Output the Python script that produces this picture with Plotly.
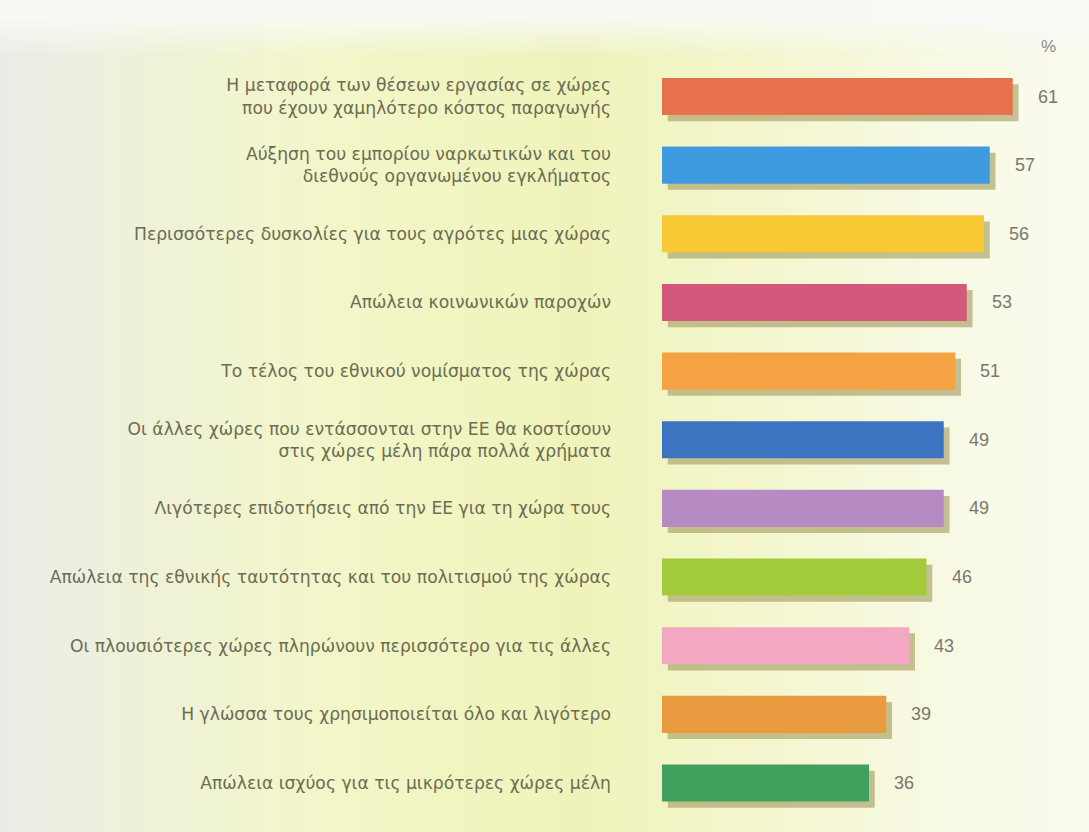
import plotly.graph_objects as go

categories = [
    "Η μεταφορά των θέσεων εργασίας σε χώρες<br>που έχουν χαμηλότερο κόστος παραγωγής",
    "Αύξηση του εμπορίου ναρκωτικών και του<br>διεθνούς οργανωμένου εγκλήματος",
    "Περισσότερες δυσκολίες για τους αγρότες μιας χώρας",
    "Απώλεια κοινωνικών παροχών",
    "Το τέλος του εθνικού νομίσματος της χώρας",
    "Οι άλλες χώρες που εντάσσονται στην ΕΕ θα κοστίσουν<br>στις χώρες μέλη πάρα πολλά χρήματα",
    "Λιγότερες επιδοτήσεις από την ΕΕ για τη χώρα τους",
    "Απώλεια της εθνικής ταυτότητας και του πολιτισμού της χώρας",
    "Οι πλουσιότερες χώρες πληρώνουν περισσότερο για τις άλλες",
    "Η γλώσσα τους χρησιμοποιείται όλο και λιγότερο",
    "Απώλεια ισχύος για τις μικρότερες χώρες μέλη",
]
values = [61, 57, 56, 53, 51, 49, 49, 46, 43, 39, 36]
bar_colors = ["#e6714c", "#3f9be0", "#f8c935", "#d2587c", "#f5a244", "#3d74c2",
              "#b68bc4", "#a3cb3c", "#f3a7c3", "#eb9b3f", "#41a05d"]
unit_label = "%"

W, H = 1089, 832
positions = list(range(len(categories)))

fig = go.Figure()

# background gradient stripes
stops = [(0, (234, 237, 230)), (60, (236, 239, 226)), (160, (239, 242, 214)),
         (330, (243, 246, 200)), (580, (239, 243, 186)), (760, (244, 246, 206)),
         (950, (248, 249, 228)), (1089, (250, 251, 240))]
def col_at(x):
    for (x0, c0), (x1, c1) in zip(stops[:-1], stops[1:]):
        if x0 <= x <= x1:
            t = (x - x0) / (x1 - x0)
            return tuple(int(round(a + (b - a) * t)) for a, b in zip(c0, c1))
    return stops[-1][1]

n = 90
shapes = []
for i in range(n):
    x0 = i * W / n
    x1 = (i + 1) * W / n + 1
    c = col_at((x0 + x1) / 2)
    shapes.append(dict(type="rect", xref="paper", yref="paper",
                       x0=x0 / W, x1=min(x1 / W, 1), y0=0, y1=1,
                       fillcolor="rgb(%d,%d,%d)" % c, line_width=0, layer="below"))
# whitish top band fading
for k in range(14):
    top = k * 4
    alpha = 0.92 if k < 5 else 0.92 * (1 - (k - 4) / 10)
    shapes.append(dict(type="rect", xref="paper", yref="paper",
                       x0=0, x1=1, y0=1 - (top + 4) / H, y1=1 - top / H,
                       fillcolor="rgba(248,249,246,%.2f)" % alpha, line_width=0, layer="below"))

bar_w = 0.54
# shadows
fig.add_trace(go.Bar(
    y=positions, x=values, base=1.0, orientation="h",
    width=bar_w, offset=-bar_w / 2 + 0.09,
    marker=dict(color="rgba(172,167,110,0.7)", line_width=0),
    hoverinfo="skip", showlegend=False))
# main bars
fig.add_trace(go.Bar(
    y=positions, x=values, orientation="h",
    width=bar_w, offset=-bar_w / 2,
    marker=dict(color=bar_colors, line_width=0),
    hoverinfo="skip", showlegend=False))

annotations = []
for p, v in zip(positions, values):
    annotations.append(dict(x=v, y=p, xref="x", yref="y", text=str(v),
                            showarrow=False, xanchor="left", yanchor="middle", xshift=23,
                            font=dict(family="Liberation Sans, Arial",
                                      size=18, color="#78786f")))
annotations.append(dict(x=1048 / W, y=1 - 46 / H, xref="paper", yref="paper",
                        text=unit_label, showarrow=False,
                        xanchor="center", yanchor="middle",
                        font=dict(family="Liberation Sans, Arial",
                                  size=17, color="#8a8a86")))

px_per_unit = 5.75
x_left = 662
x_range_max = (W - x_left) / px_per_unit
row_px = 68.65
first_px = 96.5

fig.update_layout(
    width=W, height=H,
    margin=dict(l=0, r=0, t=0, b=0),
    paper_bgcolor="#f6f7ee", plot_bgcolor="rgba(0,0,0,0)",
    shapes=shapes, annotations=annotations,
    barmode="overlay",
    xaxis=dict(domain=[x_left / W, 1], range=[0, x_range_max],
               showgrid=False, zeroline=False, showticklabels=False, showline=False),
    yaxis=dict(range=[len(categories) - 1 + (H - first_px - (len(categories) - 1) * row_px) / row_px,
                      -first_px / row_px],
               tickmode="array", tickvals=positions, ticktext=categories,
               ticks="", showgrid=False, zeroline=False, showline=False,
               ticklabelstandoff=50,
               tickfont=dict(family="DejaVu Sans, Arial", size=17.2, color="#6c6c52")),
)

fig.write_html("out.html", config={"displayModeBar": False},
               post_script="document.body.style.margin='0';document.body.style.overflow='hidden';")
